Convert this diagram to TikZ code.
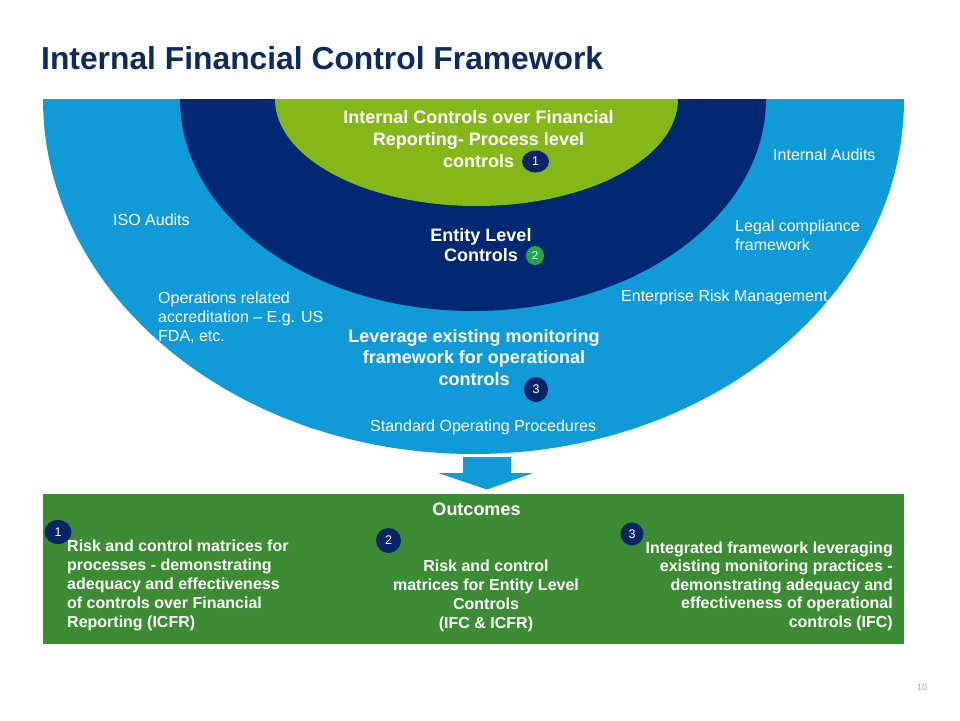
\documentclass[tikz,border=0pt]{standalone}
\usepackage{fontspec}
\setmainfont{Liberation Sans}
\usetikzlibrary{shapes.geometric}
\definecolor{lightblue}{HTML}{109AD8}
\definecolor{navyband}{HTML}{002873}
\definecolor{limegreen}{HTML}{84B818}
\definecolor{boxgreen}{HTML}{3B8C32}
\definecolor{titlecol}{HTML}{0D2C5E}
\definecolor{badgenavy}{HTML}{0A2468}
\definecolor{badgegreen}{HTML}{22A54B}
\tikzset{
  boldtxt/.style={text=white, inner sep=0pt, align=center, font=\bfseries\fontsize{18}{22}\selectfont},
  regtxt/.style={text=white, inner sep=0pt, align=left, font=\fontsize{16}{19}\selectfont},
  outtxt/.style={text=white, inner sep=0pt, font=\bfseries\fontsize{16}{19}\selectfont},
  badge/.style={ellipse, fill=badgenavy, inner sep=0pt, minimum width=27pt, minimum height=23pt, text=white, font=\fontsize{12.5}{12.5}\selectfont},
}
\begin{document}
\begin{tikzpicture}[x=1pt, y=-1pt]
\useasboundingbox (0,0) rectangle (960,720);
\fill[white] (0,0) rectangle (960,720);
% title
\node[anchor=base west, inner sep=0pt, text=titlecol, font=\bfseries\fontsize{31.8}{36}\selectfont] (title) at (41,69.5) {Internal Financial Control Framework};
% half ellipses
\begin{scope}
  \clip (0,99) rectangle (960,720);
  \fill[lightblue] (473.5,99) ellipse [x radius=430.5, y radius=355];
  \fill[navyband] (473,99) ellipse [x radius=293, y radius=212];
  \fill[limegreen] (476.5,99) ellipse [x radius=201.5, y radius=107];
\end{scope}
% arrow
\fill[lightblue] (463,457) -- (511,457) -- (511,473) -- (533,473) -- (487,489.5) -- (438,473) -- (463,473) -- cycle;
% outcomes box
\fill[boxgreen] (43,494) rectangle (904,644);

% texts in rings (anchor base = baseline of the last line)
\node[boldtxt, anchor=base] (icfr) at (478.5,167) {Internal Controls over Financial\\Reporting- Process level\\controls};
\node[badge, minimum width=27pt, minimum height=22pt] (b1) at (535.5,161.5) {1};
\node[boldtxt, anchor=base, align=center, font=\bfseries\fontsize{18}{20}\selectfont] (elc) at (481,261.7) {Entity Level\\Controls};
\node[badge, fill=badgegreen, minimum width=18pt, minimum height=19pt, font=\fontsize{11.5}{11.5}\selectfont] (b2) at (535,255.5) {2};
\node[boldtxt, anchor=base, font=\bfseries\fontsize{18}{21.5}\selectfont] (lev) at (474,385) {Leverage existing monitoring\\framework for operational\\controls};
\node[badge, minimum width=24pt, minimum height=25pt] (b3) at (536,389.5) {3};

\node[regtxt, anchor=base west] (sop) at (370,431.5) {Standard Operating Procedures};
\node[regtxt, anchor=base west] (iso) at (113,225) {ISO Audits};
\node[regtxt, anchor=base west] (ops) at (158,341) {Operations related\\accreditation -- E.g. US\\FDA, etc.};
\node[regtxt, anchor=base west] (ia) at (773,160) {Internal Audits};
\node[regtxt, anchor=base west] (legal) at (735,250) {Legal compliance\\framework};
\node[regtxt, anchor=base west] (erm) at (621,301.5) {Enterprise Risk Management};

% outcomes
\node[outtxt, anchor=base, font=\bfseries\fontsize{18}{20}\selectfont] (out) at (476.5,515) {Outcomes};
\node[badge, minimum width=27pt, minimum height=24pt] (o1) at (58,532) {1};
\node[outtxt, anchor=base west, align=left] (t1) at (67,627.5) {Risk and control matrices for\\processes - demonstrating\\adequacy and effectiveness\\of controls over Financial\\Reporting (ICFR)};
\node[badge, minimum width=25pt, minimum height=25pt] (o2) at (388.5,540.5) {2};
\node[outtxt, anchor=base, align=center] (t2) at (486,628) {Risk and control\\matrices for Entity Level\\Controls\\(IFC \& ICFR)};
\node[badge, minimum width=23pt, minimum height=23pt] (o3) at (632,534) {3};
\node[outtxt, anchor=base east, align=right, font=\bfseries\fontsize{16}{18.5}\selectfont] (t3) at (893,627) {Integrated framework leveraging\\existing monitoring practices -\\demonstrating adequacy and\\effectiveness of operational\\controls (IFC)};

\node[anchor=base, inner sep=0pt, text=black!35, font=\fontsize{9}{9}\selectfont] (pg) at (922,690) {10};
\end{tikzpicture}
\end{document}
